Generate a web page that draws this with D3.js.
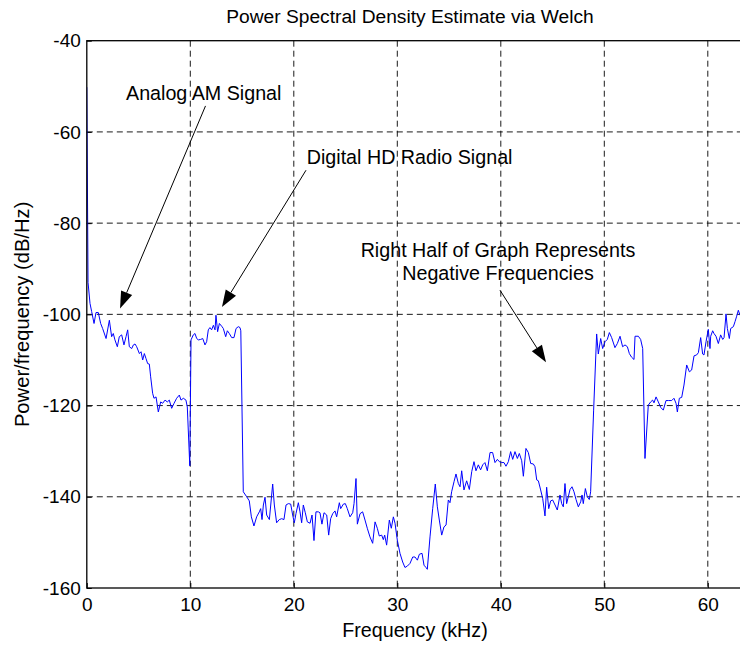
<!DOCTYPE html>
<html>
<head>
<meta charset="utf-8">
<script src="https://cdn.jsdelivr.net/npm/d3@7"></script>
<style>
body { margin: 0; background: #fff; }
text { font-family: "Liberation Sans", Arial, sans-serif; }
</style>
</head>
<body>
<script>
// Welch PSD estimate (kHz, dB/Hz)
var freqKHz = [
    0.00, 0.12, 0.31, 0.47, 0.70, 0.89, 1.11, 1.34, 1.53, 1.86, 2.18, 2.40, 2.56, 2.72, 2.95,
    3.14, 3.37, 3.59, 3.79, 3.95, 4.11, 4.34, 4.50, 4.66, 4.82, 5.08, 5.24, 5.40, 5.56, 5.72,
    5.88, 6.04, 6.17, 6.36, 6.49, 6.69, 6.91, 7.14, 7.33, 7.56, 7.78, 7.97, 8.20, 8.43, 8.68,
    8.94, 9.10, 9.33, 9.58, 9.71, 9.95,
    10.07, 10.29, 10.45, 10.62, 10.78, 11.00, 11.20, 11.42, 11.58, 11.74, 11.90, 12.06, 12.23,
    12.39, 12.48, 12.64, 12.81, 13.03, 13.19, 13.42, 13.58, 13.77, 14.00, 14.22, 14.42, 14.64,
    14.80, 14.88,
    15.12, 15.45, 15.70, 15.90, 16.15, 16.41, 16.67, 16.80, 16.93, 17.06, 17.22, 17.38, 17.64,
    17.96, 18.12, 18.34, 18.60, 18.83, 19.05, 19.25, 19.47, 19.70, 19.89, 20.05, 20.21, 20.44,
    20.60, 20.76, 20.92, 21.11, 21.31, 21.57, 21.76, 21.95, 22.14, 22.37, 22.53, 22.72, 22.92,
    23.18, 23.37, 23.56, 23.76, 23.98, 24.14, 24.40, 24.53, 24.79, 24.98, 25.17, 25.43, 25.69,
    25.82, 26.01, 26.14, 26.40, 26.65, 26.88, 27.10, 27.36, 27.62, 27.85, 28.07, 28.26, 28.49,
    28.65, 28.78, 28.97, 29.23, 29.42, 29.62, 29.78, 30.00, 30.26, 30.52, 30.74, 30.97, 31.23,
    31.49, 31.71, 31.94, 32.13, 32.39, 32.58, 32.77, 32.90, 33.16, 33.42, 33.67, 33.87, 34.06,
    34.29, 34.51, 34.71, 34.93, 35.09, 35.25, 35.48, 35.67, 35.90, 36.06,
    36.22, 36.44, 36.70, 36.96, 37.19, 37.41, 37.60, 37.83, 38.05, 38.25, 38.47, 38.70, 38.96,
    39.21, 39.44, 39.67, 39.86, 40.08, 40.31, 40.50, 40.73, 40.95, 41.15, 41.37, 41.60, 41.79,
    42.02, 42.18, 42.43, 42.66, 42.89, 43.14, 43.30, 43.47, 43.63, 43.85, 44.05, 44.27, 44.43,
    44.63, 44.82, 45.01, 45.24, 45.46, 45.72, 45.88, 46.04, 46.20, 46.36, 46.52, 46.69, 46.88,
    47.07, 47.27, 47.49, 47.72, 47.85, 47.97, 48.17, 48.36, 48.55, 48.68, 48.97,
    49.26, 49.42, 49.65, 49.84, 50.07, 50.29, 50.49, 50.71, 51.03, 51.26, 51.52, 51.77, 52.00,
    52.23, 52.42, 52.64, 52.87, 52.97, 53.29, 53.51, 53.71, 53.93,
    54.25, 54.48, 54.67, 54.80, 55.00, 55.22, 55.45, 55.70, 55.96, 56.19, 56.51, 56.73, 56.93,
    57.06, 57.25, 57.48, 57.70, 57.96, 58.22, 58.44, 58.67, 58.92, 59.09, 59.31, 59.50, 59.63,
    59.83, 60.05, 60.21, 60.28, 60.47, 60.60, 60.79, 61.02, 61.24, 61.44, 61.57, 61.76, 61.89,
    62.08, 62.21, 62.47, 62.63, 62.79, 62.95, 63.11
];

var psdDb = [
    -50.2, -93.0, -97.6, -99.4, -102.0, -99.6, -99.6, -102.0, -103.1, -105.3, -101.3, -104.9, -104.2, -105.6, -107.1,
    -104.9, -104.5, -106.7, -104.9, -103.4, -107.1, -107.5, -106.7, -106.5, -107.1, -108.6, -108.2, -110.0, -108.6, -109.7,
    -110.8, -110.9, -113.7, -117.3, -118.4, -118.1, -121.4, -119.2, -119.5, -118.8, -119.2, -118.8, -120.6, -119.5, -118.4,
    -117.7, -118.8, -118.4, -118.8, -120.3, -133.2,
    -105.6, -104.5, -104.2, -105.3, -105.6, -105.5, -105.3, -106.7, -106.0, -103.4, -102.9, -103.4, -102.4,
    -103.4, -100.2, -103.8, -102.0, -102.6, -103.1, -104.9, -103.6, -104.2, -105.1, -105.1, -103.1, -102.7,
    -102.9, -103.6,
    -138.9, -140.0, -140.9, -144.4, -146.4, -144.4, -143.3, -142.6, -145.0, -141.8, -140.1, -144.0, -145.0,
    -137.2, -141.8, -145.7, -145.0, -144.8, -145.0, -141.8, -141.5, -141.6, -144.0, -145.7, -143.7, -141.3,
    -143.3, -145.7, -141.8, -143.5, -145.5, -145.8, -144.0, -149.6, -143.3, -143.3, -143.5, -146.0, -143.5,
    -144.0, -148.4, -144.8, -143.7, -143.1, -144.4, -141.3, -142.6, -141.6, -141.5, -142.6, -144.4, -143.5,
    -141.5, -136.0, -146.0, -143.7, -143.3, -145.1, -146.9, -148.8, -150.2, -145.5, -146.9, -148.6, -148.4,
    -149.4, -148.4, -150.6, -145.1, -146.9, -144.4, -145.8, -149.5, -152.4, -154.3, -155.5, -155.2, -154.6,
    -153.2, -153.2, -153.9, -152.6, -152.4, -155.0, -155.5, -155.9, -148.8, -142.6, -137.2, -142.2, -145.1,
    -148.4, -146.6, -146.2, -140.7, -141.3, -138.9, -136.7, -135.0, -137.1, -137.8,
    -134.3, -138.5, -136.5, -138.4, -134.5, -132.3, -134.3, -133.0, -134.1, -133.0, -132.5, -134.3, -130.3,
    -130.3, -132.5, -131.8, -132.3, -132.5, -132.5, -133.3, -132.3, -130.1, -131.8, -130.1, -131.6, -130.5,
    -132.1, -135.5, -129.4, -130.3, -132.7, -132.8, -133.4, -136.3, -136.5, -138.5, -140.4, -144.2, -137.9,
    -142.6, -140.9, -140.7, -141.8, -142.9, -139.6, -141.5, -142.2, -137.1, -141.5, -140.0, -138.4, -137.8,
    -138.9, -140.6, -142.2, -141.1, -139.6, -141.5, -138.2, -140.0, -140.6, -138.9, -121.0,
    -104.3, -108.7, -105.3, -107.5, -106.0, -105.5, -104.0, -105.1, -107.3, -106.4, -104.8, -107.1, -106.7,
    -107.1, -108.6, -109.4, -109.9, -104.8, -104.8, -105.5, -107.5, -131.6,
    -119.9, -119.2, -118.8, -119.4, -118.1, -119.2, -120.4, -121.0, -118.9, -118.9, -118.9, -118.4, -119.5,
    -121.4, -118.4, -118.2, -115.5, -111.1, -112.6, -112.2, -109.1, -108.9, -108.4, -105.1, -108.7, -108.9,
    -106.0, -103.3, -107.5, -104.8, -103.6, -104.2, -104.8, -106.4, -104.5, -105.5, -105.1, -99.9, -103.1,
    -105.3, -103.1, -102.7, -101.6, -100.4, -99.1, -100.2
];

var xTicks = [0, 10, 20, 30, 40, 50, 60];
var yTicks = [-160, -140, -120, -100, -80, -60, -40];

// annotation text and arrows, in data units (kHz, dB)
var noteLines = [
    {text: "Analog AM Signal", f: 3.79, db: -53.0, anchor: "start"},
    {text: "Digital HD Radio Signal", f: 21.25, db: -67.1, anchor: "start"},
    {text: "Right Half of Graph Represents", f: 39.73, db: -87.4, anchor: "middle"},
    {text: "Negative Frequencies", f: 39.73, db: -92.5, anchor: "middle"}
];
var noteArrows = [
    {f1: 11.47, db1: -54.3, f2: 3.21, db2: -98.7},
    {f1: 21.18, db1: -68.4, f2: 13.06, db2: -98.4},
    {f1: 39.92, db1: -94.7, f2: 44.37, db2: -110.5}
];

var width = 740, height = 645;
var plotL = 86.8, plotT = 40.7, plotB = 588, plotR = 749.2;

var svg = d3.select("body")
    .append("svg")
    .attr("width", width)
    .attr("height", height);

svg.append("rect")
    .attr("width", width)
    .attr("height", height)
    .attr("fill", "#fff");

var x = d3.scaleLinear().domain([0, 64]).range([plotL, plotR]);
var y = d3.scaleLinear().domain([-160, -40]).range([plotB, plotT]);

// dashed grid
svg.append("g").selectAll("line")
    .data(xTicks.filter(function(d) { return d > 0; }))
    .enter().append("line")
    .attr("x1", function(d) { return x(d); })
    .attr("x2", function(d) { return x(d); })
    .attr("y1", plotT)
    .attr("y2", plotB)
    .attr("stroke", "#000")
    .attr("stroke-width", 0.9)
    .attr("stroke-dasharray", "6,4");

svg.append("g").selectAll("line")
    .data(yTicks.filter(function(d) { return d > -160 && d < -40; }))
    .enter().append("line")
    .attr("x1", plotL)
    .attr("x2", plotR)
    .attr("y1", function(d) { return y(d); })
    .attr("y2", function(d) { return y(d); })
    .attr("stroke", "#000")
    .attr("stroke-width", 0.9)
    .attr("stroke-dasharray", "6,4");

// axes (ticks pointing inward), plain hyphen minus in labels
var plain = function(d) { return String(d); };

var xAxis = svg.append("g")
    .attr("transform", "translate(0," + plotB + ")")
    .call(d3.axisBottom(x).tickValues(xTicks).tickFormat(plain).tickSize(-5).tickPadding(10));

var yAxis = svg.append("g")
    .attr("transform", "translate(" + plotL + ",0)")
    .call(d3.axisLeft(y).tickValues(yTicks).tickFormat(plain).tickSize(-5).tickPadding(6));

[xAxis, yAxis].forEach(function(g) {
    g.select(".domain").remove();
    g.selectAll("text")
        .attr("font-family", "Liberation Sans, Arial, sans-serif")
        .attr("font-size", 19)
        .attr("fill", "#000");
    g.selectAll("line").attr("stroke", "#000");
});

// spectrum
svg.append("defs").append("clipPath")
    .attr("id", "plotClip")
    .append("rect")
    .attr("x", plotL)
    .attr("y", plotT)
    .attr("width", plotR - plotL)
    .attr("height", plotB - plotT);

var line = d3.line()
    .x(function(d, i) { return x(freqKHz[i]); })
    .y(function(d, i) { return y(psdDb[i]); });

svg.append("path")
    .datum(freqKHz)
    .attr("clip-path", "url(#plotClip)")
    .attr("d", line)
    .attr("fill", "none")
    .attr("stroke", "#0000ff")
    .attr("stroke-width", 1);

// box
svg.append("rect")
    .attr("x", plotL)
    .attr("y", plotT)
    .attr("width", plotR - plotL)
    .attr("height", plotB - plotT)
    .attr("fill", "none")
    .attr("stroke", "#000")
    .attr("stroke-width", 1.3);

// annotations
svg.append("g").selectAll("text")
    .data(noteLines)
    .enter().append("text")
    .attr("x", function(d) { return x(d.f); })
    .attr("y", function(d) { return y(d.db); })
    .attr("text-anchor", function(d) { return d.anchor; })
    .attr("font-size", 19.7)
    .attr("fill", "#000")
    .text(function(d) { return d.text; });

var headLen = 17, headHalf = 6;
noteArrows.forEach(function(a) {
    var x1 = x(a.f1), y1 = y(a.db1), x2 = x(a.f2), y2 = y(a.db2);
    var len = Math.sqrt((x2 - x1) * (x2 - x1) + (y2 - y1) * (y2 - y1));
    var ux = (x2 - x1) / len, uy = (y2 - y1) / len;
    var bx = x2 - ux * headLen, by = y2 - uy * headLen;
    svg.append("line")
        .attr("x1", x1).attr("y1", y1)
        .attr("x2", bx).attr("y2", by)
        .attr("stroke", "#000")
        .attr("stroke-width", 1);
    svg.append("path")
        .attr("d", "M" + x2 + "," + y2 +
            "L" + (bx - uy * headHalf) + "," + (by + ux * headHalf) +
            "L" + (bx + uy * headHalf) + "," + (by - ux * headHalf) + "Z")
        .attr("fill", "#000");
});

// titles
svg.append("text")
    .attr("x", 410)
    .attr("y", 23)
    .attr("text-anchor", "middle")
    .attr("font-size", 19.2)
    .text("Power Spectral Density Estimate via Welch");

svg.append("text")
    .attr("x", 415)
    .attr("y", 637)
    .attr("text-anchor", "middle")
    .attr("font-size", 19.7)
    .text("Frequency (kHz)");

svg.append("text")
    .attr("transform", "translate(29," + ((plotT + plotB) / 2) + ") rotate(-90)")
    .attr("text-anchor", "middle")
    .attr("font-size", 20.2)
    .text("Power/frequency (dB/Hz)");
</script>
</body>
</html>
